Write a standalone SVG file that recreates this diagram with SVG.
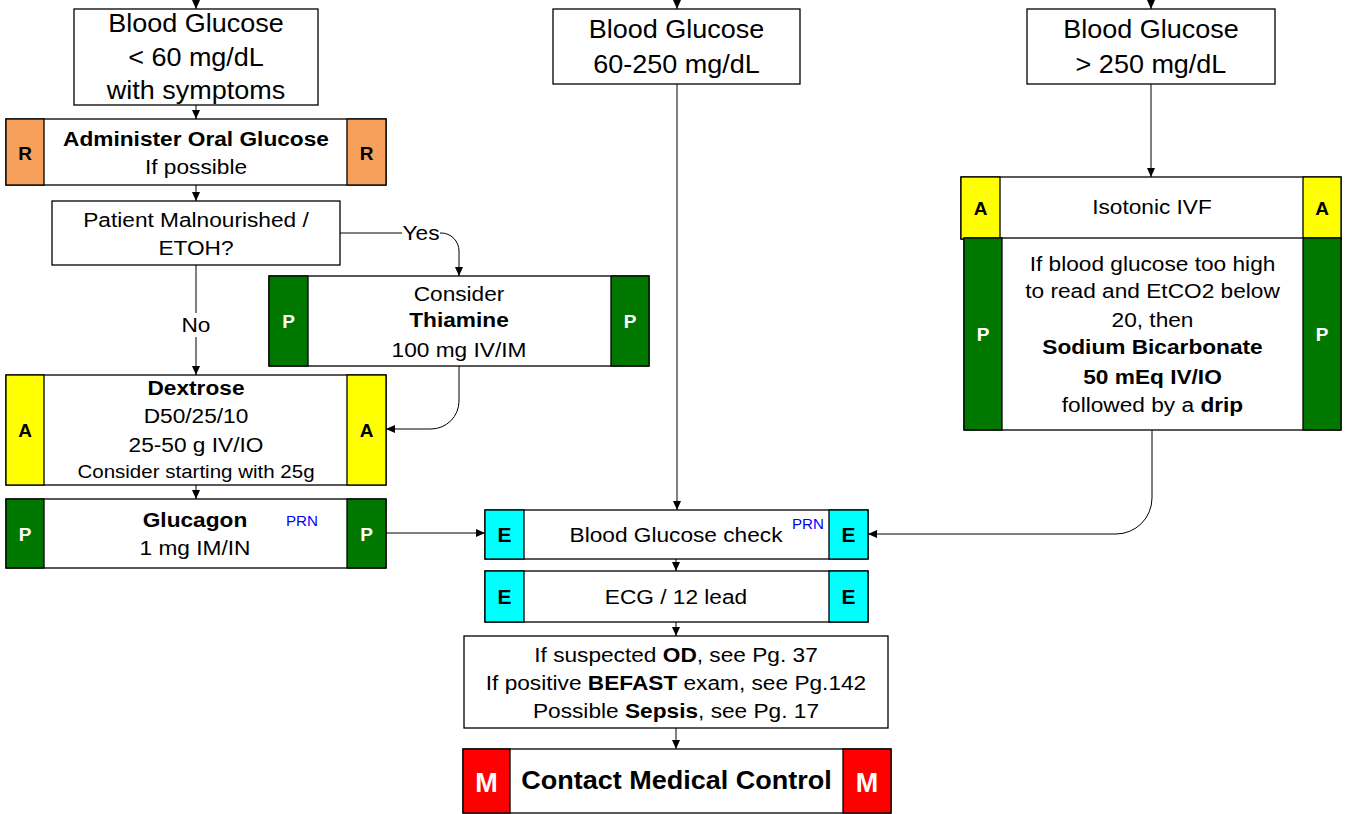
<svg xmlns="http://www.w3.org/2000/svg" width="1345" height="814" viewBox="0 0 1345 814">
<defs>
<style>
.box{fill:#fff;stroke:#000;stroke-width:1.3}
.tR{fill:#F6A05C;stroke:#000;stroke-width:1.3}
.tA{fill:#FFFF00;stroke:#000;stroke-width:1.3}
.tP{fill:#007800;stroke:#000;stroke-width:1.3}
.tE{fill:#00FFFF;stroke:#000;stroke-width:1.3}
.tM{fill:#FF0000;stroke:#000;stroke-width:1.3}
text{font-family:"Liberation Sans",Arial,sans-serif;text-anchor:middle;fill:#000}
.s24{font-size:25px}
.s20{font-size:21px}
.s18{font-size:19px}
.b{font-weight:bold}
.tab{font-weight:bold;font-size:19px}
.tabw{font-weight:bold;font-size:19px;fill:#fff}
.tabE{font-weight:bold;font-size:21px}
.tabM{font-weight:bold;font-size:27px;fill:#fff}
.prn{font-size:14px;fill:#0000FF}
.conn{fill:none;stroke:#000;stroke-width:1}
.lblbg{fill:#fff;stroke:none}
</style>
<marker id="arr" markerUnits="userSpaceOnUse" markerWidth="9" markerHeight="8" refX="9" refY="4" orient="auto">
<path d="M0,0 L9,4 L0,8 z" fill="#000"/>
</marker>
</defs>

<g id="connectors">
<path class="conn" marker-end="url(#arr)" d="M196,0 V9"/>
<path class="conn" marker-end="url(#arr)" d="M677,0 V9"/>
<path class="conn" marker-end="url(#arr)" d="M1151,0 V9"/>
<path class="conn" marker-end="url(#arr)" d="M196,105 V119"/>
<path class="conn" marker-end="url(#arr)" d="M196,185 V201"/>
<path class="conn" marker-end="url(#arr)" d="M196,265 V375"/>
<path class="conn" marker-end="url(#arr)" d="M340,233 H441 A18,18 0 0 1 459,251 V276"/>
<path class="conn" marker-end="url(#arr)" d="M459,366 V401 A28,28 0 0 1 431,429 H386"/>
<path class="conn" marker-end="url(#arr)" d="M196,485 V499"/>
<path class="conn" marker-end="url(#arr)" d="M386,533 H485"/>
<path class="conn" marker-end="url(#arr)" d="M677,84 V510"/>
<path class="conn" marker-end="url(#arr)" d="M1151,84 V177"/>
<path class="conn" marker-end="url(#arr)" d="M1152,430 V498 A36,36 0 0 1 1116,534 H868"/>
<path class="conn" marker-end="url(#arr)" d="M676,559 V571"/>
<path class="conn" marker-end="url(#arr)" d="M676,622 V636"/>
<path class="conn" marker-end="url(#arr)" d="M676,728 V749"/>
<rect class="lblbg" x="402" y="222" width="38" height="22"/>
<g transform="translate(421 0) scale(1.08 1)"><text class="s20" x="0" y="240">Yes</text></g>
<rect class="lblbg" x="182" y="313" width="28" height="24"/>
<g transform="translate(196 0) scale(1.08 1)"><text class="s20" x="0" y="332">No</text></g>
</g>

<g id="n_low">
<rect class="box" x="74" y="9" width="244" height="96"/>
<g transform="translate(196 0) scale(1.08 1)"><text class="s24"><tspan x="0" y="32">Blood Glucose</tspan><tspan x="0" y="66">&lt; 60 mg/dL</tspan><tspan x="0" y="99">with symptoms</tspan></text></g>
</g>

<g id="n_mid">
<rect class="box" x="553" y="9" width="247" height="75"/>
<g transform="translate(676.5 0) scale(1.08 1)"><text class="s24"><tspan x="0" y="38">Blood Glucose</tspan><tspan x="0" y="73">60-250 mg/dL</tspan></text></g>
</g>

<g id="n_high">
<rect class="box" x="1027" y="9" width="248" height="75"/>
<g transform="translate(1151 0) scale(1.08 1)"><text class="s24"><tspan x="0" y="38">Blood Glucose</tspan><tspan x="0" y="73">&gt; 250 mg/dL</tspan></text></g>
</g>

<g id="n_oral">
<rect class="box" x="6" y="119" width="380" height="66"/>
<rect class="tR" x="6" y="119" width="38" height="66"/>
<rect class="tR" x="347" y="119" width="39" height="66"/>
<text class="tab" x="25" y="160">R</text>
<text class="tab" x="366.5" y="160">R</text>
<g transform="translate(196 0) scale(1.08 1)"><text class="s20"><tspan x="0" y="146" class="b">Administer Oral Glucose</tspan><tspan x="0" y="174">If possible</tspan></text></g>
</g>

<g id="n_malnourished">
<rect class="box" x="52" y="201" width="288" height="64"/>
<g transform="translate(196 0) scale(1.08 1)"><text class="s20"><tspan x="0" y="227">Patient Malnourished /</tspan><tspan x="0" y="255">ETOH?</tspan></text></g>
</g>

<g id="n_thiamine">
<rect class="box" x="269" y="276" width="380" height="90"/>
<rect class="tP" x="269" y="276" width="39" height="90"/>
<rect class="tP" x="611" y="276" width="38" height="90"/>
<text class="tabw" x="288.5" y="328">P</text>
<text class="tabw" x="630" y="328">P</text>
<g transform="translate(459 0) scale(1.08 1)"><text class="s20"><tspan x="0" y="301">Consider</tspan><tspan x="0" y="327" class="b">Thiamine</tspan><tspan x="0" y="357">100 mg IV/IM</tspan></text></g>
</g>

<g id="n_dextrose">
<rect class="box" x="6" y="375" width="380" height="110"/>
<rect class="tA" x="6" y="375" width="38" height="110"/>
<rect class="tA" x="347" y="375" width="39" height="110"/>
<text class="tab" x="25" y="437">A</text>
<text class="tab" x="366.5" y="437">A</text>
<g transform="translate(196 0) scale(1.08 1)"><text class="s20"><tspan x="0" y="395" class="b">Dextrose</tspan><tspan x="0" y="423">D50/25/10</tspan><tspan x="0" y="452">25-50 g IV/IO</tspan><tspan x="0" y="478" class="s18">Consider starting with 25g</tspan></text></g>
</g>

<g id="n_glucagon">
<rect class="box" x="6" y="499" width="380" height="69"/>
<rect class="tP" x="6" y="499" width="38" height="69"/>
<rect class="tP" x="347" y="499" width="39" height="69"/>
<text class="tabw" x="25" y="541">P</text>
<text class="tabw" x="366.5" y="541">P</text>
<g transform="translate(195 0) scale(1.08 1)"><text class="s20"><tspan x="0" y="527" class="b">Glucagon</tspan><tspan x="0" y="555">1 mg IM/IN</tspan></text></g>
<g transform="translate(302 0) scale(1.08 1)"><text class="prn" x="0" y="526">PRN</text></g>
</g>

<g id="n_ivf">
<rect class="box" x="961" y="177" width="380" height="62"/>
<rect class="tA" x="961" y="177" width="39" height="62"/>
<rect class="tA" x="1303" y="177" width="38" height="62"/>
<text class="tab" x="980.5" y="215">A</text>
<text class="tab" x="1322" y="215">A</text>
<g transform="translate(1152 0) scale(1.08 1)"><text class="s20" x="0" y="214">Isotonic IVF</text></g>
</g>

<g id="n_bicarb">
<rect class="box" x="964" y="238" width="377" height="192"/>
<rect class="tP" x="964" y="238" width="38" height="192"/>
<rect class="tP" x="1303" y="238" width="38" height="192"/>
<text class="tabw" x="983" y="341">P</text>
<text class="tabw" x="1322" y="341">P</text>
<g transform="translate(1152.5 0) scale(1.08 1)"><text class="s20"><tspan x="0" y="271">If blood glucose too high</tspan><tspan x="0" y="298">to read and EtCO2 below</tspan><tspan x="0" y="327">20, then</tspan><tspan x="0" y="354" class="b">Sodium Bicarbonate</tspan><tspan x="0" y="384" class="b">50 mEq IV/IO</tspan><tspan x="0" y="412">followed by a <tspan class="b">drip</tspan></tspan></text></g>
</g>

<g id="n_bgcheck">
<rect class="box" x="485" y="510" width="383" height="49"/>
<rect class="tE" x="485" y="510" width="39" height="49"/>
<rect class="tE" x="829" y="510" width="39" height="49"/>
<text class="tabE" x="504.5" y="542">E</text>
<text class="tabE" x="848.5" y="542">E</text>
<g transform="translate(676 0) scale(1.08 1)"><text class="s20" x="0" y="542">Blood Glucose check</text></g>
<g transform="translate(808 0) scale(1.08 1)"><text class="prn" x="0" y="529">PRN</text></g>
</g>

<g id="n_ecg">
<rect class="box" x="485" y="571" width="383" height="51"/>
<rect class="tE" x="485" y="571" width="39" height="51"/>
<rect class="tE" x="829" y="571" width="39" height="51"/>
<text class="tabE" x="504.5" y="604">E</text>
<text class="tabE" x="848.5" y="604">E</text>
<g transform="translate(676 0) scale(1.08 1)"><text class="s20" x="0" y="604">ECG / 12 lead</text></g>
</g>

<g id="n_refs">
<rect class="box" x="464" y="636" width="424" height="92"/>
<g transform="translate(676 0) scale(1.08 1)"><text class="s20"><tspan x="0" y="662">If suspected <tspan class="b">OD</tspan>, see Pg. 37</tspan><tspan x="0" y="690">If positive <tspan class="b">BEFAST</tspan> exam, see Pg.142</tspan><tspan x="0" y="718">Possible <tspan class="b">Sepsis</tspan>, see Pg. 17</tspan></text></g>
</g>

<g id="n_contact">
<rect class="box" x="463" y="749" width="428" height="64"/>
<rect class="tM" x="463" y="749" width="47" height="64"/>
<rect class="tM" x="843" y="749" width="48" height="64"/>
<text class="tabM" x="486.5" y="792">M</text>
<text class="tabM" x="867" y="792">M</text>
<g transform="translate(676.5 0) scale(1.08 1)"><text class="s24 b" x="0" y="789">Contact Medical Control</text></g>
</g>
</svg>
